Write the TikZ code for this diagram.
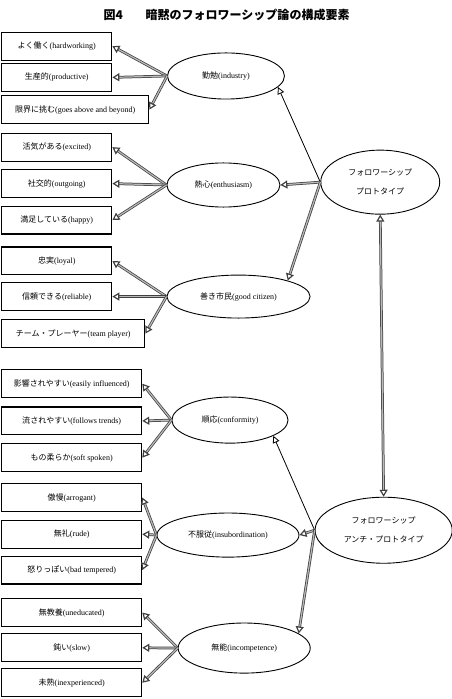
\documentclass[tikz,border=0pt]{standalone}
\usepackage{fontspec}
\setmainfont{Liberation Serif}
\newfontfamily\jp{Noto Sans CJK JP}
\usetikzlibrary{shapes.geometric,arrows.meta}
\definecolor{linkgray}{HTML}{404040}

\begin{document}
\begin{tikzpicture}[
  every node/.style={font=\fontsize{8}{10}\selectfont},
  box/.style={draw, line width=1.1pt, minimum width=3.87cm,
              minimum height=0.98cm, anchor=west, inner sep=1pt},
  trait/.style={ellipse, draw, line width=0.9pt, inner sep=0pt},
  proto/.style={trait, align=center, font=\jp\fontsize{8}{19}\selectfont},
  arr/.style={-{Triangle[open, length=7pt, width=8pt, line width=1.2pt]},
              draw=linkgray, double=gray!55, double distance=1.2pt, line width=0.75pt},
  arrboth/.style={arr, {Triangle[open, length=7pt, width=8pt, line width=1.2pt]}-{Triangle[open, length=7pt, width=8pt, line width=1.2pt]}},
  lead/.style={-{Triangle[open, length=7pt, width=7pt]}, line width=0.8pt}
]
\useasboundingbox (0,0) rectangle (15.88,-24.56);

%% title
\node[font=\fontsize{12}{14}\selectfont\jp\bfseries] (title) at (7.96,-0.53)
  {図4\hspace{1.9em}暗黙のフォロワーシップ論の構成要素};

%% prototype traits
\node[box] (hw)     at (0.04,-1.62) {{\jp よく働く}(hardworking)};
\node[box] (prod)   at (0.04,-2.72) {{\jp 生産的}(productive)};
\node[box, minimum width=5.17cm] (beyond) at (0.04,-3.85) {{\jp 限界に挑む}(goes above and beyond)};

\node[box] (exc)    at (0.04,-5.17) {{\jp 活気がある}(excited)};
\node[box] (outg)   at (0.04,-6.45) {{\jp 社交的}(outgoing)};
\node[box] (happy)  at (0.04,-7.73) {{\jp 満足している}(happy)};

\node[box] (loyal)  at (0.04,-9.17) {{\jp 忠実}(loyal)};
\node[box] (rel)    at (0.04,-10.42) {{\jp 信頼できる}(reliable)};
\node[box, minimum width=5.03cm] (team) at (0.04,-11.72) {{\jp チーム・プレーヤー}(team player)};

%% anti-prototype traits
\node[box, minimum width=4.92cm] (infl)  at (0.04,-13.48) {{\jp 影響されやすい}(easily influenced)};
\node[box, minimum width=4.92cm] (trend) at (0.04,-14.79) {{\jp 流されやすい}(follows trends)};
\node[box, minimum width=4.92cm] (soft)  at (0.04,-16.08) {{\jp もの柔らか}(soft spoken)};

\node[box, minimum width=4.92cm] (arro)  at (0.04,-17.48) {{\jp 傲慢}(arrogant)};
\node[box, minimum width=4.92cm] (rude)  at (0.04,-18.77) {{\jp 無礼}(rude)};
\node[box, minimum width=4.92cm] (temp)  at (0.04,-20.03) {{\jp 怒りっぽい}(bad tempered)};

\node[box, minimum width=4.92cm] (uned)  at (0.04,-21.52) {{\jp 無教養}(uneducated)};
\node[box, minimum width=4.92cm] (slow)  at (0.04,-22.76) {{\jp 鈍い}(slow)};
\node[box, minimum width=4.92cm] (inex)  at (0.04,-23.99) {{\jp 未熟}(inexperienced)};

%% factors
\node[trait, minimum width=4.11cm, minimum height=1.62cm] (ind) at (7.94,-2.67) {{\jp 勤勉}(industry)};
\node[trait, minimum width=3.97cm, minimum height=1.55cm] (ent) at (7.85,-6.50) {{\jp 熱心}(enthusiasm)};
\node[trait, minimum width=5.03cm, minimum height=1.51cm] (cit) at (8.38,-10.42) {{\jp 善き市民}(good citizen)};
\node[trait, minimum width=4.08cm, minimum height=1.62cm] (conf) at (8.08,-14.76) {{\jp 順応}(conformity)};
\node[trait, minimum width=4.99cm, minimum height=1.55cm] (insub) at (8.01,-18.80) {{\jp 不服従}(insubordination)};
\node[trait, minimum width=4.64cm, minimum height=1.76cm] (incomp) at (8.58,-22.77) {{\jp 無能}(incompetence)};

%% prototypes
\node[proto, minimum width=4.18cm, minimum height=2.25cm] (pro) at (13.36,-6.40)
  {フォロワーシップ\\プロトタイプ};
\node[proto, minimum width=4.82cm, minimum height=2.32cm] (anti) at (13.48,-18.63)
  {フォロワーシップ\\アンチ・プロトタイプ};

%% factor -> trait arrows
\foreach \f/\t in {ind/hw, ind/prod, ind/beyond, ent/exc, ent/outg, ent/happy,
                   cit/loyal, cit/rel, cit/team, conf/infl, conf/trend, conf/soft,
                   insub/arro, insub/rude, insub/temp, incomp/uned, incomp/slow, incomp/inex}
  \draw[arr] (\f.west) -- (\t.east);

%% prototype -> factor arrows
\draw[lead] (pro.west) -- (ind.-12);
\draw[arr]  (pro.west) -- (ent.east);
\draw[arr]  (pro.west) -- (cit.18);
\draw[lead] (anti.west) -- (conf.-20);
\draw[arr]  (anti.west) -- (insub.east);
\draw[arr]  (anti.west) -- (incomp.15);

\draw[arrboth] (pro.south) -- (anti.north);

\end{tikzpicture}
\end{document}
